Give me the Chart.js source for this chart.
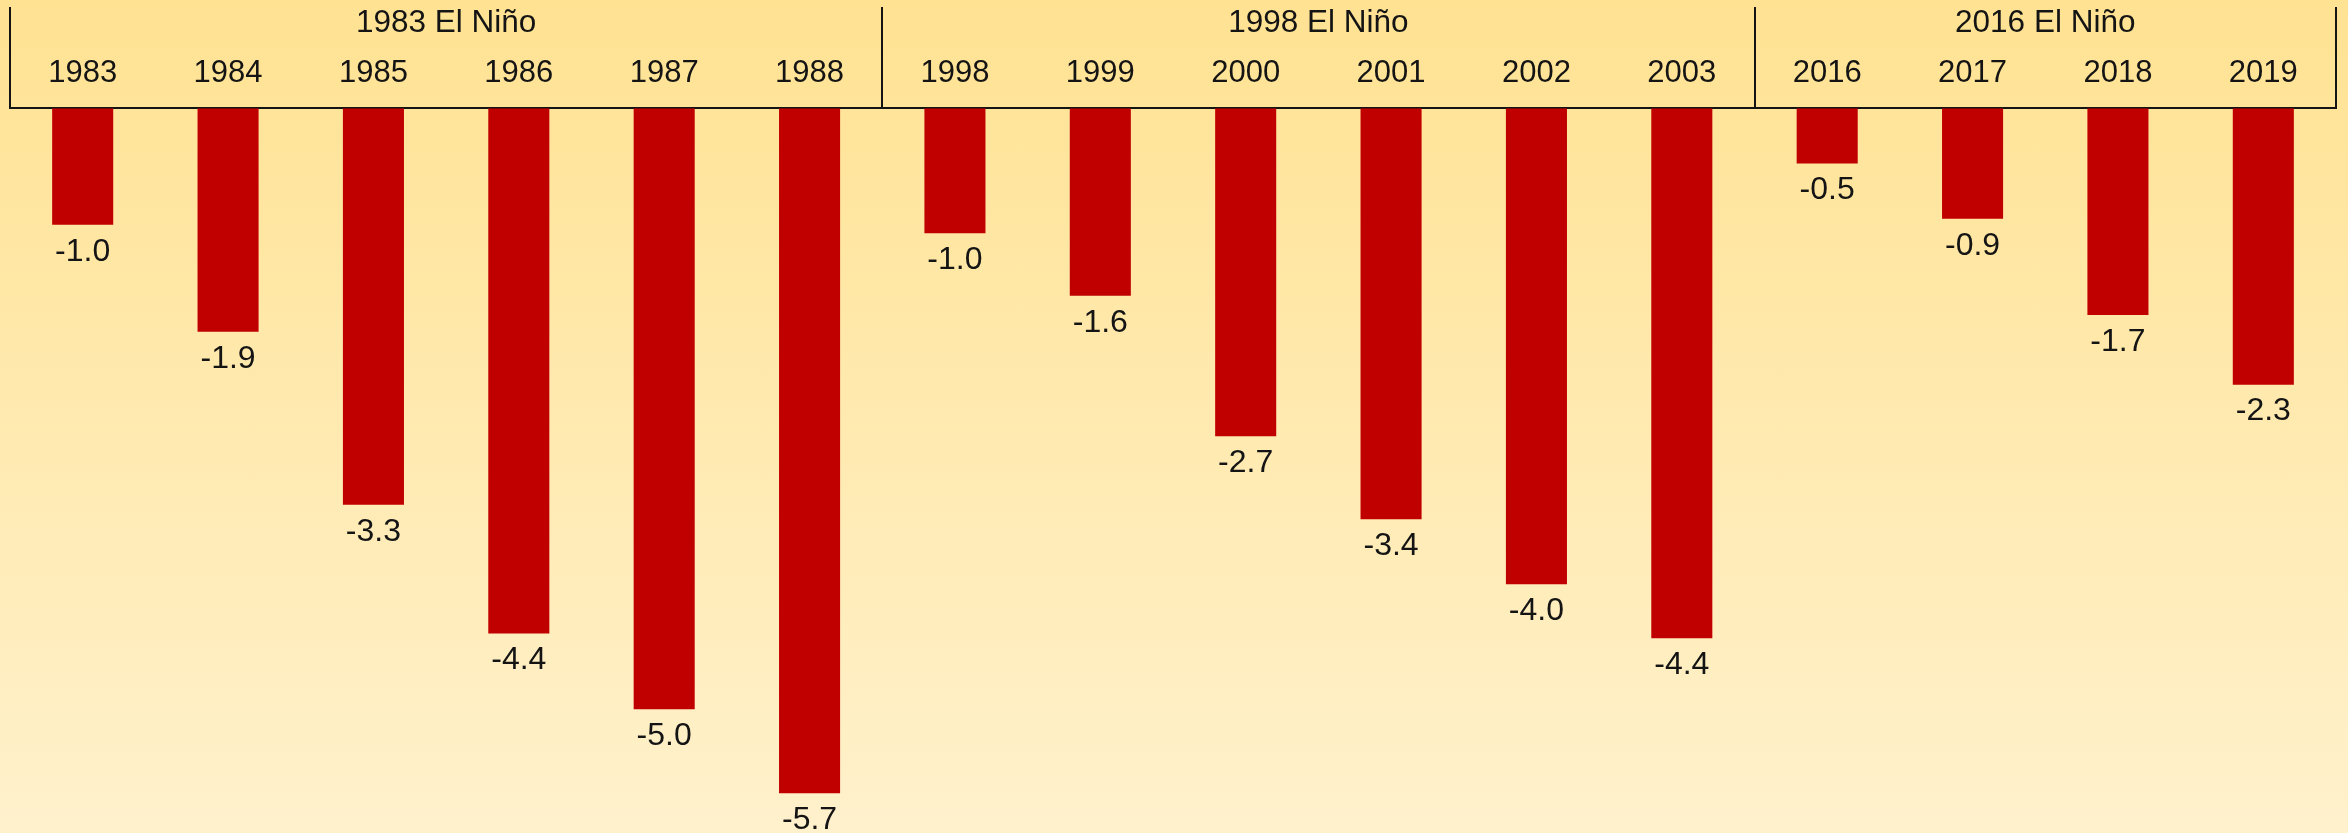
<!DOCTYPE html>
<html>
<head>
<meta charset="utf-8">
<script src="https://cdn.jsdelivr.net/npm/chart.js@4/dist/chart.umd.min.js"></script>
<style>
  html, body { margin: 0; padding: 0; }
  #wrap {
    width: 2348px; height: 833px; position: relative;
    background: linear-gradient(to bottom, #FFE292 0%, #FFF1CC 100%);
  }
  canvas { display: block; }
</style>
</head>
<body>
<div id="wrap"><canvas id="c" width="2348" height="833"></canvas></div>
<script>
const categories = ['1983','1984','1985','1986','1987','1988','1998','1999','2000','2001','2002','2003','2016','2017','2018','2019'];
const groupLabels = ['1983 El Niño','1998 El Niño','2016 El Niño'];
const groupSizes = [6, 6, 4];
const values = [-0.97, -1.86, -3.30, -4.37, -5.00, -5.70, -1.04, -1.56, -2.73, -3.42, -3.96, -4.41, -0.46, -0.92, -1.72, -2.30];

const FONT = '"Liberation Sans", Arial, sans-serif';
const INK = '#141414';

const headerPlugin = {
  id: 'header',
  afterDraw(chart) {
    const ctx = chart.ctx;
    const x = chart.scales.x;
    const area = chart.chartArea;
    const n = categories.length;
    const step = n > 1 ? (x.getPixelForValue(1) - x.getPixelForValue(0)) : area.width;
    const edge = i => x.getPixelForValue(i) - step / 2;
    ctx.save();
    ctx.strokeStyle = INK;
    ctx.lineWidth = 2;
    let idx = 0;
    const bounds = [0];
    groupSizes.forEach(s => { idx += s; bounds.push(idx); });
    bounds.forEach(b => {
      const px = Math.round(edge(b));
      ctx.beginPath();
      ctx.moveTo(px, 7);
      ctx.lineTo(px, area.top);
      ctx.stroke();
    });
    ctx.fillStyle = INK;
    ctx.font = '31.5px ' + FONT;
    ctx.textAlign = 'center';
    ctx.textBaseline = 'middle';
    for (let g = 0; g < groupLabels.length; g++) {
      const cx = (edge(bounds[g]) + edge(bounds[g + 1])) / 2;
      ctx.fillText(groupLabels[g], cx, 23);
    }
    ctx.font = '32px ' + FONT;
    const meta = chart.getDatasetMeta(0);
    meta.data.forEach((bar, i) => {
      ctx.fillText(values[i].toFixed(1), bar.x, bar.y + 27);
    });
    ctx.restore();
  }
};

new Chart(document.getElementById('c'), {
  type: 'bar',
  data: {
    labels: categories,
    datasets: [{
      data: values,
      backgroundColor: '#C00000',
      borderWidth: 0,
      barPercentage: 0.42,
      categoryPercentage: 1.0
    }]
  },
  options: {
    responsive: false,
    animation: false,
    layout: { padding: { top: 39, left: 10, right: 12, bottom: 0 } },
    plugins: { legend: { display: false }, tooltip: { enabled: false } },
    scales: {
      x: {
        position: 'top',
        grid: { display: false, drawTicks: false },
        border: { display: true, color: INK, width: 2 },
        ticks: { color: INK, font: { size: 31, family: FONT }, padding: 16, maxRotation: 0, autoSkip: false }
      },
      y: {
        display: false,
        min: -6.03,
        max: 0
      }
    }
  },
  plugins: [headerPlugin]
});
</script>
</body>
</html>
